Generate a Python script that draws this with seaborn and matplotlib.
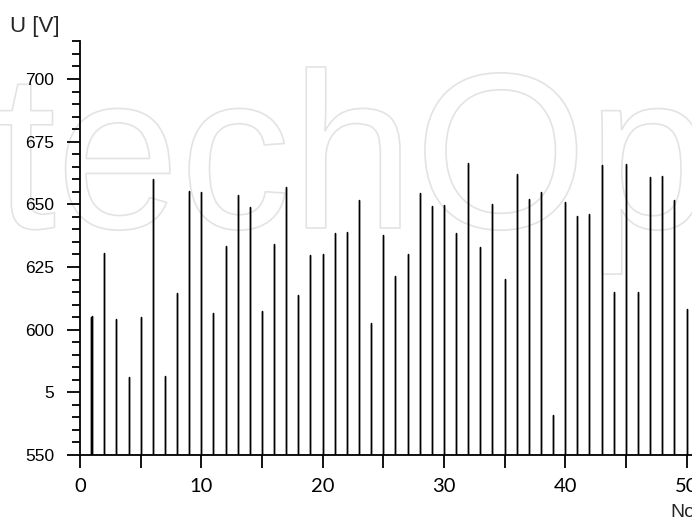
import numpy as np
import pandas as pd
import matplotlib
matplotlib.use("Agg")
import matplotlib.pyplot as plt
import matplotlib.patheffects as pe
import seaborn as sns

# Measured voltage per sample number
sample_no = [0.87, 1, 2, 3, 4, 5, 6, 7, 8, 9, 10, 11, 12, 13, 14, 15, 16, 17, 18, 19, 20,
             21, 22, 23, 24, 25, 26, 27, 28, 29, 30, 31, 32, 33, 34, 35, 36, 37, 38, 39, 40,
             41, 42, 43, 44, 45, 46, 47, 48, 49, 50]
voltage = [605.2, 605.6, 630.5, 604.1, 581.0, 605.0, 660.1, 581.5, 614.8, 655.3, 654.8,
           606.5, 633.4, 653.7, 648.9, 607.4, 634.3, 657.0, 613.8, 629.7, 630.3,
           638.4, 639.0, 651.6, 602.5, 637.6, 621.3, 630.3, 654.4, 649.2, 649.7,
           638.4, 666.6, 633.0, 650.1, 620.2, 662.1, 652.0, 654.8, 566.1, 650.8,
           645.2, 646.1, 665.7, 615.2, 666.2, 615.2, 660.8, 661.2, 651.6, 608.4]

y_base = 550
y_ticks = [550, 575, 600, 625, 650, 675, 700]
y_labels = ["550", "5", "600", "625", "650", "675", "700"]
x_ticks = [0, 5, 10, 15, 20, 25, 30, 35, 40, 45, 50, 55]
x_labels = ["0", "", "10", "", "20", "", "30", "", "40", "", "50", ""]

sns.set_style("ticks")
plt.rcParams["font.family"] = ["Liberation Sans", "DejaVu Sans"]

W, H = 692, 519
fig = plt.figure(figsize=(W / 100, H / 100), dpi=100)
fig.patch.set_facecolor("white")

# axes placed in pixel units: origin at (80, 455), 12.13 px per sample, 2.507 px per volt
x_min, x_max = 0, 55
y_min, y_max = 550, 715
px_x = 12.13
px_y = (455 - 79) / 150
ax = fig.add_axes([80 / W, (H - 455) / H, (x_max - x_min) * px_x / W,
                   (y_max - y_min) * px_y / H])
ax.patch.set_alpha(0)

# stems: each sample rises from the baseline to its value and returns
stem_x, stem_y = [], []
for xv, yv in zip(sample_no, voltage):
    stem_x += [xv, xv, xv]
    stem_y += [y_base, yv, y_base]
stems = pd.DataFrame({"No": stem_x, "U": stem_y})
sns.lineplot(data=stems, x="No", y="U", sort=False, estimator=None,
             color="black", linewidth=1.0, ax=ax)

ax.set_xlim(x_min, x_max)
ax.set_ylim(y_min, y_max)
ax.set_xlabel("")
ax.set_ylabel("")

for s in ["top", "right"]:
    ax.spines[s].set_visible(False)
for s in ["left", "bottom"]:
    ax.spines[s].set_linewidth(1.3)
    ax.spines[s].set_color("black")

ax.set_yticks(y_ticks)
ax.set_yticklabels(y_labels, fontsize=12.5, family=["Liberation Sans"])
ax.set_yticks(np.arange(550, 716, 5), minor=True)
ax.tick_params(axis="y", which="major", direction="out", length=9.5, width=1.3,
               pad=9, colors="black")
ax.tick_params(axis="y", which="minor", direction="out", length=6, width=1.3,
               colors="black")

ax.set_xticks(x_ticks)
ax.set_xticklabels(x_labels, fontsize=14.5, family=["Lato", "DejaVu Sans"],
                   fontweight="normal", color="black")
ax.tick_params(axis="x", which="major", direction="out", length=9.5, width=1.3,
               pad=7, colors="black")

# axis titles
fig.text(10 / W, (H - 32) / H, "U [V]", fontsize=16, va="baseline", ha="left",
         family=["Liberation Sans"])
fig.text(670 / W, (H - 517) / H, "No.", fontsize=14, va="baseline", ha="left",
         family=["Liberation Sans"])

# faint outlined lettering behind the plot
wm_font = ["Liberation Sans Narrow", "Liberation Sans"]
wm_size = 160
renderer = fig.canvas.get_renderer()
probe = fig.text(0, 0, "tec", fontsize=wm_size, family=wm_font)
w_tec = probe.get_window_extent(renderer).width
probe.remove()
fig.text((291 - w_tec) / W, (H - 228) / H, "techOpen", fontsize=wm_size,
         family=wm_font, color="white", va="baseline", ha="left", zorder=-5,
         path_effects=[pe.Stroke(linewidth=1.2, foreground="#e3e3e3")])

fig.savefig("out.png", dpi=100)
